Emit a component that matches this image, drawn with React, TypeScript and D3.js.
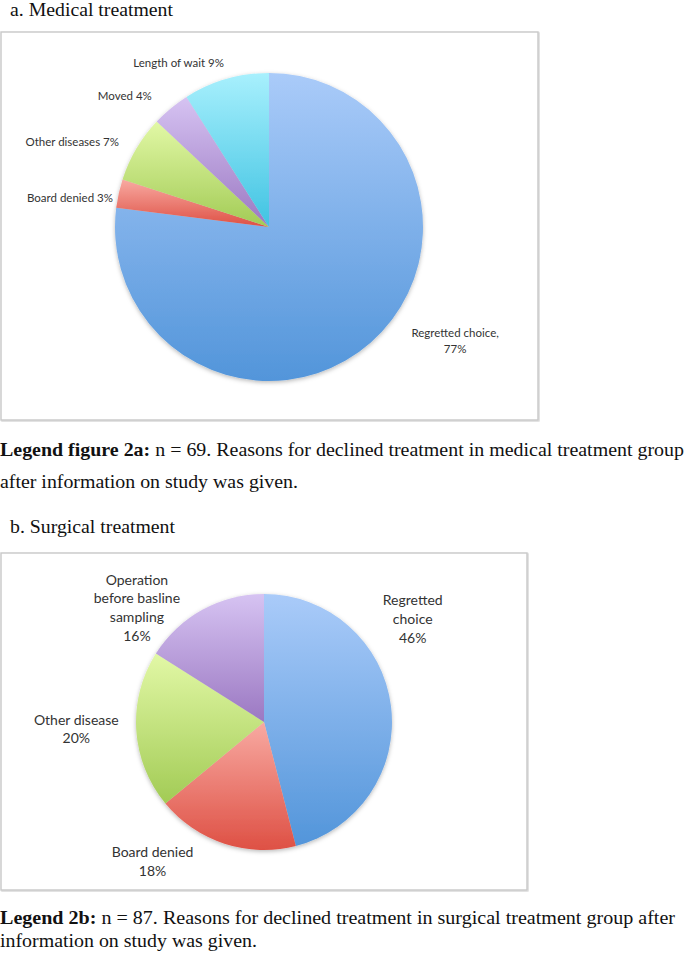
import React from 'react';
import * as d3 from 'd3';

// Two Excel-style pies (medical / surgical) with figure captions.

const W = 685;
const H = 953;

const medicalLabels = ['Regretted choice,', 'Board denied', 'Other diseases', 'Moved', 'Length of wait'];
const medicalValues = [77, 3, 7, 4, 9];

const surgicalLabels = [
  ['Regretted', 'choice'],
  ['Board denied'],
  ['Other disease'],
  ['Operation', 'before basline', 'sampling'],
];
const surgicalValues = [46, 18, 20, 16];

// top / bottom gradient stops per category
const SLICE_COLORS = {
  blue: ['#aacbf9', '#5295da'],
  red: ['#f8aaa2', '#de5044'],
  green: ['#e2f8a6', '#a2cb55'],
  purple: ['#d6c3f2', '#9b78c2'],
  cyan: ['#a8f0fd', '#40c3e2'],
};
const medicalColors = ['blue', 'red', 'green', 'purple', 'cyan'];
const surgicalColors = ['blue', 'red', 'green', 'purple'];

const LABEL_FONT = 'Lato, "Open Sans", sans-serif';
const SERIF = '"Liberation Serif", "DejaVu Serif", serif';
const CAP_SIZE = 19;

// layout: pie geometry + nudges from the outer centroid to where Excel put labels
const MED = { cx: 269, cy: 227, r: 154, labelR: 165 };
const MED_NUDGE = [[77, -19], [5, 6], [-8, -2], [-12, -4], [1, -6]];
const SUR = { cx: 264, cy: 722, r: 128, labelR: 160 };
const SUR_NUDGE = [[-10, -84], [-62, -14], [-28, -4], [-50, 25]];

type PieProps = {
  id: string;
  values: number[];
  colors: string[];
  geo: { cx: number; cy: number; r: number; labelR: number };
};

function Slices({ id, values, colors, geo }: PieProps) {
  const pie = d3.pie<number>().sort(null).value((d) => d);
  const arcs = pie(values);
  const arc = d3.arc<d3.PieArcDatum<number>>().innerRadius(0).outerRadius(geo.r);
  return (
    <g transform={`translate(${geo.cx},${geo.cy})`} filter={`url(#shadow-${id})`}>
      {arcs.map((a, i) => (
        <path key={i} d={arc(a) ?? ''} fill={`url(#grad-${colors[i]})`} />
      ))}
    </g>
  );
}

function labelAnchor(values: number[], geo: PieProps['geo'], nudge: number[][]) {
  const pie = d3.pie<number>().sort(null).value((d) => d);
  const outer = d3.arc<d3.PieArcDatum<number>>().innerRadius(geo.labelR).outerRadius(geo.labelR);
  return pie(values).map((a, i) => {
    const [x, y] = outer.centroid(a);
    return [geo.cx + x + nudge[i][0], geo.cy + y + nudge[i][1]];
  });
}

function Caption({ x, y, len, bold, rest }: { x: number; y: number; len: number; bold?: string; rest: string }) {
  return (
    <text x={x} y={y} fontFamily={SERIF} fontSize={CAP_SIZE} fill="#111" textLength={len} lengthAdjust="spacingAndGlyphs">
      {bold && <tspan fontWeight="bold">{bold}</tspan>}
      <tspan>{rest}</tspan>
    </text>
  );
}

export default function App() {
  const medPos = labelAnchor(medicalValues, MED, MED_NUDGE);
  const surPos = labelAnchor(surgicalValues, SUR, SUR_NUDGE);

  return (
    <svg
      width={W}
      height={H}
      viewBox={`0 0 ${W} ${H}`}
      style={{ position: 'absolute', left: 0, top: 0, background: '#fff' }}
    >
      <defs>
        {Object.entries(SLICE_COLORS).map(([k, [top, bot]]) => (
          <linearGradient key={k} id={`grad-${k}`} x1="0" y1="0" x2="0" y2="1">
            <stop offset="0%" stopColor={top} />
            <stop offset="100%" stopColor={bot} />
          </linearGradient>
        ))}
        {['a', 'b'].map((k) => (
          <filter key={k} id={`shadow-${k}`} x="-10%" y="-10%" width="120%" height="125%">
            <feDropShadow dx="0" dy="1.5" stdDeviation="2" floodColor="#000" floodOpacity="0.28" />
          </filter>
        ))}
        <filter id="boxshadow" x="-2%" y="-2%" width="104%" height="104%">
          <feDropShadow dx="0.8" dy="0.8" stdDeviation="0.6" floodColor="#000" floodOpacity="0.2" />
        </filter>
      </defs>

      {/* ---- a. Medical ---- */}
      <Caption x={10} y={16} len={163} rest="a. Medical treatment" />
      <rect x={1} y={32} width={537} height={388} fill="#fff" stroke="#c8c8c8" strokeWidth={1.4} filter="url(#boxshadow)" />
      <Slices id="a" values={medicalValues} colors={medicalColors} geo={MED} />
      {medicalLabels.map((lab, i) => {
        const [x, y] = medPos[i];
        if (i === 0) {
          return (
            <text key={i} x={x} y={y} textAnchor="middle" dominantBaseline="central" fontFamily={LABEL_FONT} fontSize={11.5} fill="#333">
              <tspan x={x}>{lab}</tspan>
              <tspan x={x} dy={16}>{medicalValues[i]}%</tspan>
            </text>
          );
        }
        return (
          <text key={i} x={x} y={y} textAnchor="end" dominantBaseline="central" fontFamily={LABEL_FONT} fontSize={11.5} fill="#333">
            {`${lab} ${medicalValues[i]}%`}
          </text>
        );
      })}

      {/* caption a */}
      <Caption x={0} y={456} len={684} bold="Legend figure 2a:" rest=" n = 69. Reasons for declined treatment in medical treatment group" />
      <Caption x={0} y={488} len={298} rest="after information on study was given." />

      {/* ---- b. Surgical ---- */}
      <Caption x={10} y={533} len={165} rest="b. Surgical treatment" />
      <rect x={1} y={553} width={526} height={337} fill="#fff" stroke="#c8c8c8" strokeWidth={1.4} filter="url(#boxshadow)" />
      <Slices id="b" values={surgicalValues} colors={surgicalColors} geo={SUR} />
      {surgicalLabels.map((lines, i) => {
        const [x, y] = surPos[i];
        const all = [...lines, `${surgicalValues[i]}%`];
        const lh = 18.8;
        const y0 = y - ((all.length - 1) * lh) / 2;
        return (
          <text key={i} x={x} y={y0} textAnchor="middle" dominantBaseline="central" fontFamily={LABEL_FONT} fontSize={14} fill="#333">
            {all.map((t, j) => (
              <tspan key={j} x={x} y={y0 + j * lh}>
                {t}
              </tspan>
            ))}
          </text>
        );
      })}

      {/* caption b */}
      <Caption x={0} y={924} len={675} bold="Legend 2b:" rest=" n = 87. Reasons for declined treatment in surgical treatment group after" />
      <Caption x={0} y={947} len={257} rest="information on study was given." />
    </svg>
  );
}
